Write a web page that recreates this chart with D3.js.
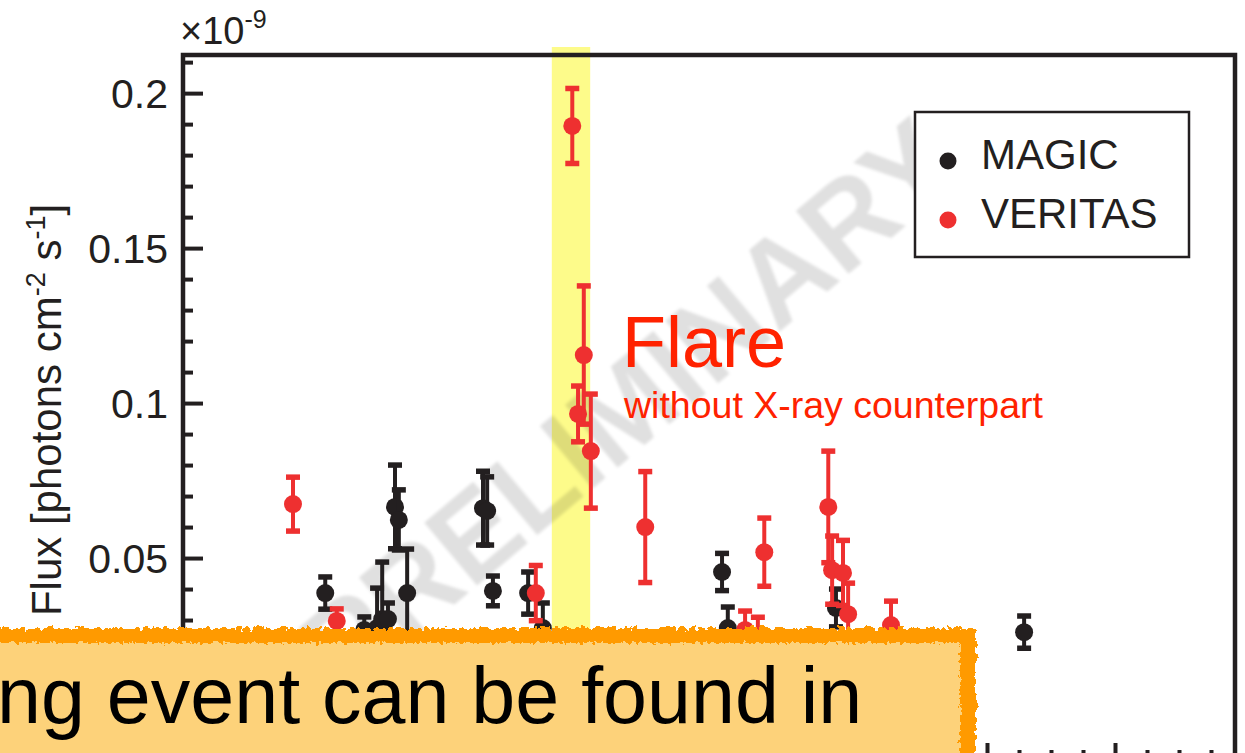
<!DOCTYPE html>
<html>
<head>
<meta charset="utf-8">
<script src="https://cdn.jsdelivr.net/npm/d3@7"></script>
<style>
body { margin: 0; background: #fff; overflow: hidden; }
text { font-family: "Liberation Sans", Arial, Helvetica, sans-serif; }
</style>
</head>
<body>
<script>
// time in days, flux in units of 1e-9 photons cm^-2 s^-1
var magicTime  = [16.6, 22.7, 24.7, 25.5, 26.4, 27.5, 28.1, 29.4, 41.25, 41.9, 42.8, 48.3, 50.6, 78.6, 79.5, 96.4, 125.8]
var magicFlux  = [0.0387, 0.0268, 0.0274, 0.0303, 0.0303, 0.0665, 0.0623, 0.0387, 0.0661, 0.0652, 0.0394, 0.0387, 0.0274, 0.0455, 0.0274, 0.0339, 0.0261]
var magicErr   = [0.0052, 0.0042, 0.0129, 0.0184, 0.0052, 0.0135, 0.0097, 0.0142, 0.0119, 0.0110, 0.0048, 0.0068, 0.0081, 0.0060, 0.0068, 0.0061, 0.0052]

var veritasTime = [11.56, 18.4, 49.5, 55.2, 56.1, 57.0, 58.1, 66.6, 82.2, 84.2, 85.2, 95.2, 95.8, 97.5, 98.3, 105.0]
var veritasFlux = [0.0674, 0.0297, 0.0387, 0.1894, 0.0965, 0.1155, 0.0845, 0.0600, 0.0268, 0.0248, 0.0519, 0.0665, 0.0461, 0.0452, 0.0319, 0.0284]
var veritasErr  = [0.0087, 0.0039, 0.0089, 0.0121, 0.0090, 0.0223, 0.0184, 0.0179, 0.0061, 0.0061, 0.0110, 0.0180, 0.0110, 0.0105, 0.0100, 0.0077]

var flareBand = [52.0, 58.0]
var yMajorTicks = [0, 0.05, 0.1, 0.15, 0.2]
var yTickLabels = ["", "0.05", "0.1", "0.15", "0.2"]   // the 0 label sits under the banner
var xMajorTicks = d3.range(0, 160, 20)
var legendNames = ["MAGIC", "VERITAS"]

var W = 1245, H = 753
var ink = "#231f20", red = "#ee3030"

var x = d3.scaleLinear().domain([-5.625, 158.75]).range([183, 1235])
var y = d3.scaleLinear().domain([-0.0158, 0.2123]).range([762, 55])

var svg = d3.select("body").append("svg")
    .attr("width", W)
    .attr("height", H)

var defs = svg.append("defs")
var rough = defs.append("filter").attr("id", "rough")
    .attr("x", "-5%").attr("y", "-20%").attr("width", "110%").attr("height", "140%")
rough.append("feTurbulence").attr("type", "fractalNoise").attr("baseFrequency", 0.2)
    .attr("numOctaves", 2).attr("seed", 4).attr("result", "noise")
rough.append("feDisplacementMap").attr("in", "SourceGraphic").attr("in2", "noise").attr("scale", 11)
var rough2 = defs.append("filter").attr("id", "rough2")
    .attr("x", "-5%").attr("y", "-20%").attr("width", "110%").attr("height", "140%")
rough2.append("feTurbulence").attr("type", "fractalNoise").attr("baseFrequency", 0.25)
    .attr("numOctaves", 2).attr("seed", 9).attr("result", "noise")
rough2.append("feDisplacementMap").attr("in", "SourceGraphic").attr("in2", "noise").attr("scale", 8)
defs.append("filter").attr("id", "soft")
    .append("feGaussianBlur").attr("stdDeviation", 1.8)

// flare highlight
svg.append("rect")
    .attr("x", x(flareBand[0]))
    .attr("width", x(flareBand[1]) - x(flareBand[0]))
    .attr("y", 47)
    .attr("height", 600)
    .attr("fill", "#fdfb8a")

// watermark
svg.append("text")
    .attr("transform", "translate(628,404) rotate(-40)")
    .attr("text-anchor", "middle")
    .attr("dy", "0.36em")
    .style("font-size", "118px")
    .style("font-weight", "bold")
    .style("fill", "#000")
    .style("fill-opacity", 0.12)
    .attr("filter", "url(#soft)")
    .text("PRELIMINARY")

// y axis (ticks inward)
var yMinor = d3.range(0, 0.211, 0.01).filter(function(v) {
  return yMajorTicks.every(function(t) { return Math.abs(t - v) > 1e-6 })
})
svg.append("g").attr("transform", "translate(183,0)")
    .call(d3.axisLeft(y).tickValues(yMinor).tickSize(-10).tickFormat(""))
var gy = svg.append("g").attr("transform", "translate(183,0)")
    .call(d3.axisLeft(y).tickValues(yMajorTicks).tickSize(-20).tickPadding(15)
      .tickFormat(function(d, i) { return yTickLabels[i] }))
gy.selectAll("text").style("font-size", "41px").attr("fill", ink).attr("dy", "0.36em")
    .style("font-family", "'Liberation Sans', Arial, sans-serif")
svg.selectAll(".domain").remove()
svg.selectAll(".tick line").attr("stroke", ink).attr("stroke-width", 4)

// x axis ticks (bottom, inward)
var xMinor = d3.range(-5, 159, 5).filter(function(v) { return v % 20 != 0 })
svg.append("g").attr("transform", "translate(0,762)")
    .call(d3.axisTop(x).tickValues(xMinor).tickSize(12).tickFormat(""))
    .selectAll("line").attr("stroke", ink).attr("stroke-width", 4)
svg.append("g").attr("transform", "translate(0,762)")
    .call(d3.axisTop(x).tickValues(xMajorTicks).tickSize(19).tickFormat(""))
    .selectAll("line").attr("stroke", ink).attr("stroke-width", 4)
svg.selectAll(".domain").remove()

// data
function drawSeries(t, f, e, col) {
  var pts = t.map(function(v, i) { return { t: v, f: f[i], e: e[i] } })
  var g = svg.append("g").selectAll("g").data(pts).enter().append("g")
  g.append("line")
    .attr("x1", function(d) { return x(d.t) }).attr("x2", function(d) { return x(d.t) })
    .attr("y1", function(d) { return y(d.f + d.e) }).attr("y2", function(d) { return y(d.f - d.e) })
    .attr("stroke", col).attr("stroke-width", 4)
  g.append("line")
    .attr("x1", function(d) { return x(d.t) - 7 }).attr("x2", function(d) { return x(d.t) + 7 })
    .attr("y1", function(d) { return y(d.f + d.e) }).attr("y2", function(d) { return y(d.f + d.e) })
    .attr("stroke", col).attr("stroke-width", 5.5)
  g.append("line")
    .attr("x1", function(d) { return x(d.t) - 7 }).attr("x2", function(d) { return x(d.t) + 7 })
    .attr("y1", function(d) { return y(d.f - d.e) }).attr("y2", function(d) { return y(d.f - d.e) })
    .attr("stroke", col).attr("stroke-width", 5.5)
  g.append("circle")
    .attr("cx", function(d) { return x(d.t) })
    .attr("cy", function(d) { return y(d.f) })
    .attr("r", 9)
    .attr("fill", col)
}
drawSeries(magicTime, magicFlux, magicErr, ink)
drawSeries(veritasTime, veritasFlux, veritasErr, red)

// frame
svg.append("rect")
    .attr("x", 183).attr("y", 55)
    .attr("width", 1235 - 183).attr("height", 762 - 55)
    .attr("fill", "none").attr("stroke", ink).attr("stroke-width", 4.5)

// exponent
var ex = svg.append("text").attr("x", 180).attr("y", 44).attr("fill", ink).style("font-size", "38px")
ex.append("tspan").text("\u00d710")
ex.append("tspan").attr("dy", -16).style("font-size", "25px").text("-9")

// y label
var yl = svg.append("text")
    .attr("transform", "translate(61,410) rotate(-90)")
    .attr("text-anchor", "middle")
    .attr("fill", ink)
    .style("font-size", "42px")
yl.append("tspan").text("Flux [photons cm")
yl.append("tspan").attr("dy", -16).style("font-size", "27px").text("-2")
yl.append("tspan").attr("dy", 16).text(" s")
yl.append("tspan").attr("dy", -16).style("font-size", "27px").text("-1")
yl.append("tspan").attr("dy", 16).text("]")

// legend
svg.append("rect")
    .attr("x", 915).attr("y", 112).attr("width", 274).attr("height", 145)
    .attr("fill", "#fff").attr("stroke", ink).attr("stroke-width", 2.5)
var lg = svg.append("g").selectAll("g").data(legendNames).enter().append("g")
    .attr("transform", function(d, i) { return "translate(0," + (i * 59) + ")" })
lg.append("circle").attr("cx", 948).attr("cy", 161).attr("r", 8.5)
    .attr("fill", function(d, i) { return i ? red : ink })
lg.append("text").attr("x", 981).attr("y", 169)
    .attr("fill", ink).style("font-size", "42px")
    .text(function(d) { return d })

// annotation
svg.append("text").attr("x", 622).attr("y", 367)
    .attr("fill", "#ff2200").style("font-size", "72px").text("Flare")
svg.append("text").attr("x", 624).attr("y", 418)
    .attr("fill", "#ff2200").style("font-size", "37.5px").text("without X-ray counterpart")

// slide banner over the bottom
svg.append("rect")
    .attr("x", -30).attr("y", 628).attr("width", 1006).attr("height", 200)
    .attr("fill", "#ff9a00").attr("filter", "url(#rough)")
svg.append("rect")
    .attr("x", -30).attr("y", 643).attr("width", 990).attr("height", 200)
    .attr("fill", "#fdd27a").attr("filter", "url(#rough2)")
svg.append("text").attr("x", -3).attr("y", 723)
    .attr("fill", "#000").style("font-size", "79px")
    .text("ng event can be found in")
</script>
</body>
</html>
